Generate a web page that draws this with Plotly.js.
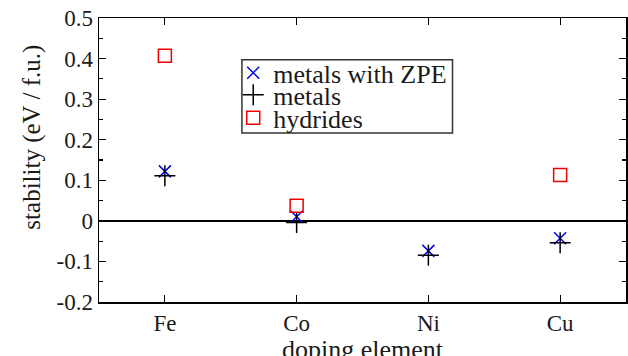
<!DOCTYPE html>
<html>
<head>
<meta charset="utf-8">
<script src="https://cdn.plot.ly/plotly-3.0.1.min.js"></script>
<style>html,body{margin:0;padding:0;background:#fff;}#chart{width:628px;height:356px;}</style>
</head>
<body>
<div id="chart"></div>
<script>
var elements = ["Fe", "Co", "Ni", "Cu"];
var metalsZPE = [0.122, 0.010, -0.074, -0.043];
var metals = [0.111, -0.004, -0.085, -0.054];
var hydrideElements = ["Fe", "Co", "Cu"];
var hydrides = [0.407, 0.037, 0.113];
var yTicks = [-0.2, -0.1, 0, 0.1, 0.2, 0.3, 0.4, 0.5];
var yTickText = ["-0.2", "-0.1", "0", "0.1", "0.2", "0.3", "0.4", "0.5"];

var FONT = "Liberation Serif";
var TXT = "#1a1a1a";

var traces = [
  {x: elements, y: metalsZPE, type: "scatter", mode: "markers", name: "metals with ZPE",
   legend: "legend",
   marker: {symbol: "x-thin", size: 12, line: {color: "#0000ee", width: 1.5}, color: "#0000ee"}},
  {x: elements, y: metals, type: "scatter", mode: "markers", name: "metals",
   legend: "legend2",
   marker: {symbol: "cross-thin", size: 15, line: {color: "#000000", width: 1.5}, color: "#000000"}},
  {x: hydrideElements, y: hydrides, type: "scatter", mode: "markers", name: "hydrides",
   legend: "legend3",
   marker: {symbol: "square-open", size: 13, line: {color: "#ee0000", width: 1.5}, color: "#ee0000"}}
];

function leg(y) {
  return {x: 0.2547, y: y, xanchor: "left", yanchor: "middle", bgcolor: "rgba(0,0,0,0)",
          borderwidth: 0, font: {family: FONT, size: 26, color: TXT}, itemwidth: 30};
}

var layout = {
  width: 628, height: 356,
  font: {family: FONT, size: 23, color: TXT},
  margin: {l: 98.5, r: 1.5, t: 18.3, b: 54.3, pad: 0},
  paper_bgcolor: "#ffffff", plot_bgcolor: "#ffffff",
  showlegend: true,
  legend: leg(0.807),
  legend2: leg(0.729),
  legend3: leg(0.648),
  xaxis: {
    type: "category", categoryorder: "array", categoryarray: elements,
    range: [-0.5, 3.5], showgrid: false, zeroline: false,
    showline: true, linecolor: "#000", linewidth: 1.5, mirror: "allticks",
    ticks: "inside", ticklen: 7, tickwidth: 1.2, tickcolor: "#000",
    tickfont: {family: FONT, size: 23, color: TXT}
  },
  yaxis: {
    range: [-0.2, 0.5], tickvals: yTicks, ticktext: yTickText,
    showgrid: false, zeroline: true, zerolinecolor: "#000", zerolinewidth: 1.5,
    showline: true, linecolor: "#000", linewidth: 1.5, mirror: "allticks",
    ticks: "inside", ticklen: 7, tickwidth: 1.2, tickcolor: "#000",
    minor: {dtick: 0.05, ticks: "inside", ticklen: 4, tickwidth: 1.2, tickcolor: "#000", showgrid: false},
    tickfont: {family: FONT, size: 23, color: TXT}
  },
  shapes: [
    {type: "rect", xref: "paper", yref: "paper", x0: 0.2712, x1: 0.6708, y0: 0.5953, y1: 0.8529,
     line: {color: "#333", width: 1.5}, fillcolor: "rgba(0,0,0,0)"}
  ],
  annotations: [
    {text: "stability (eV / f.u.)", xref: "paper", yref: "paper", x: -0.1278, y: 0.581,
     xanchor: "center", yanchor: "middle", textangle: -90, showarrow: false,
     font: {family: FONT, size: 25, color: TXT}},
    {text: "doping element", xref: "paper", yref: "paper", x: 0.5, y: -0.168,
     xanchor: "center", yanchor: "middle", showarrow: false,
     font: {family: FONT, size: 26, color: TXT}}
  ]
};

Plotly.newPlot("chart", traces, layout, {displayModeBar: false, staticPlot: true});
</script>
</body>
</html>
